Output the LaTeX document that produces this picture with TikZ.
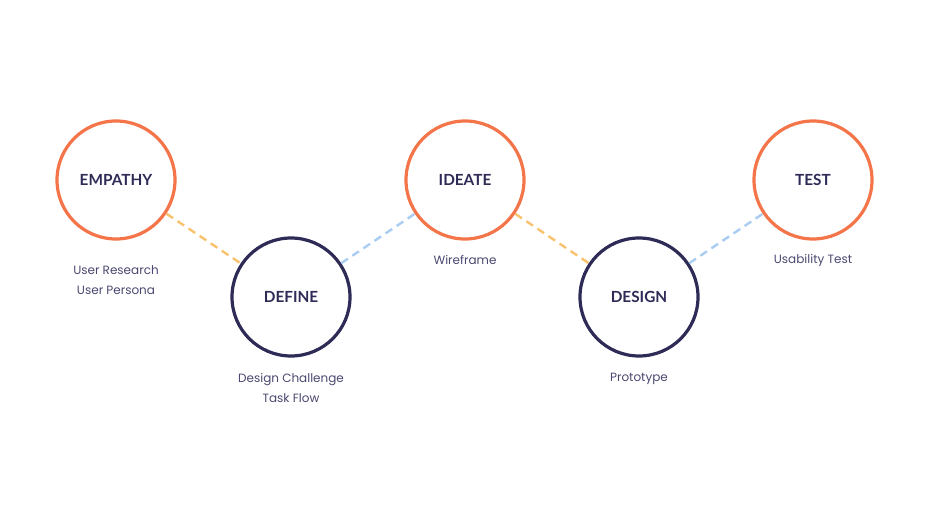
\documentclass[tikz,border=0pt]{standalone}
\usepackage{fontspec}
\setmainfont{Poppins}
\newfontfamily\titlefont{Lato}
\definecolor{orng}{HTML}{F4754A}
\definecolor{navy}{HTML}{2E2B57}
\definecolor{txt}{HTML}{4A4870}
\definecolor{ylw}{HTML}{F9C26C}
\definecolor{lblue}{HTML}{A9CDF2}
\begin{document}
\begin{tikzpicture}[x=0.75pt,y=-0.75pt,
  stage/.style={circle,minimum size=118*0.75pt,inner sep=0pt,line width=2.4pt,fill=white,font=\titlefont\bfseries\fontsize{11.5}{13}\selectfont,text=navy},
  top/.style={stage,draw=orng},
  bot/.style={stage,draw=navy},
  sub/.style={font=\fontsize{9}{15}\selectfont,text=txt,align=center},
  link/.style={line width=1.8pt,dash pattern=on 6pt off 4pt}]
\useasboundingbox (0,0) rectangle (930,523);
\node[top] (emp) at (116,180) {EMPATHY};
\node[bot] (def) at (291,297) {DEFINE};
\node[top] (ide) at (465,180) {IDEATE};
\node[bot] (des) at (639,297) {DESIGN};
\node[top] (tst) at (813,180) {TEST};
\draw[link,draw=ylw] (emp) -- (def);
\draw[link,draw=lblue] (def) -- (ide);
\draw[link,draw=ylw] (ide) -- (des);
\draw[link,draw=lblue] (des) -- (tst);
\node[sub] (s1) at (116,280) {User Research\\User Persona};
\node[sub] (s2) at (291,388) {Design Challenge\\Task Flow};
\node[sub] (s3) at (465,260) {Wireframe};
\node[sub] (s4) at (639,379) {Prototype};
\node[sub] (s5) at (813,260) {Usability Test};
\end{tikzpicture}
\end{document}
